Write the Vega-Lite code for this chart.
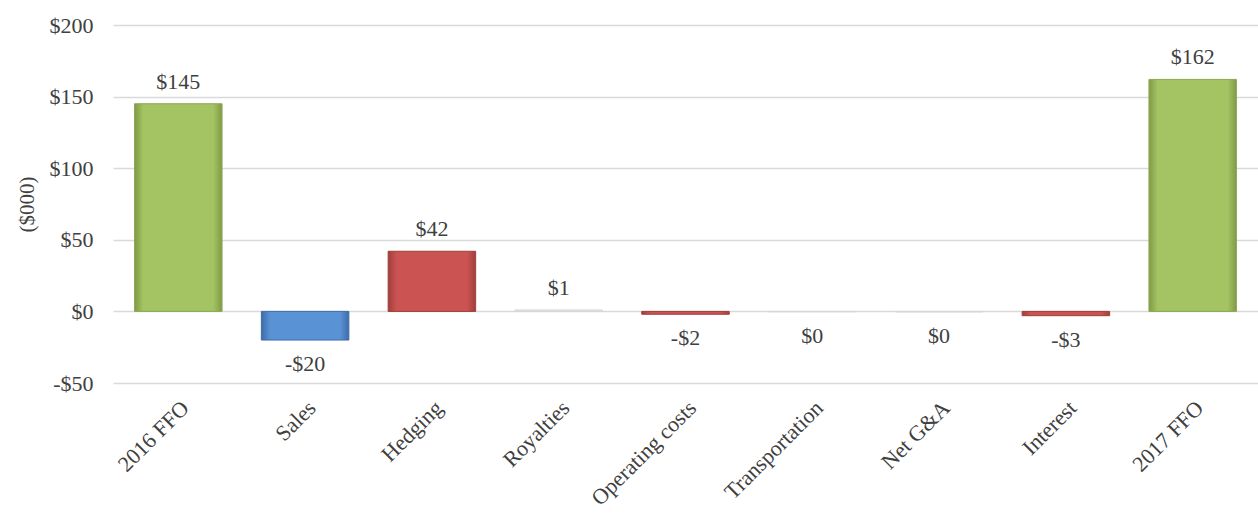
{
"$schema": "https://vega.github.io/schema/vega-lite/v6.json",
"autosize": {"type": "none"},
"padding": {"left": 113, "top": 25, "right": 0, "bottom": 131},
"width": 1145,
"height": 358,
"background": "white",
"config": {
  "font": "Liberation Serif",
  "view": {"stroke": null},
  "axis": {"labelFont": "Liberation Serif", "titleFont": "Liberation Serif", "labelFontSize": 22, "titleFontSize": 21, "labelColor": "#404040", "titleColor": "#404040", "titleFontWeight": "normal", "domain": false, "ticks": false, "gridColor": "#d9d9d9", "gridWidth": 1.5}
},
"data": {"values": [
  {"category": "2016 FFO", "value": 145, "series": "total", "label": "$145"},
  {"category": "Sales", "value": -20, "series": "blue", "label": "-$20"},
  {"category": "Hedging", "value": 42, "series": "red", "label": "$42"},
  {"category": "Royalties", "value": 1, "series": "grey", "label": "$1"},
  {"category": "Operating costs", "value": -2, "series": "red", "label": "-$2"},
  {"category": "Transportation", "value": -0.3, "series": "grey", "label": "$0"},
  {"category": "Net G&A", "value": -0.4, "series": "grey", "label": "$0"},
  {"category": "Interest", "value": -3, "series": "red", "label": "-$3"},
  {"category": "2017 FFO", "value": 162, "series": "total", "label": "$162"}
]},
"encoding": {
  "x": {"field": "category", "type": "nominal", "sort": null,
    "scale": {"domain": ["2016 FFO", "Sales", "Hedging", "Royalties", "Operating costs", "Transportation", "Net G&A", "Interest", "2017 FFO"], "paddingInner": 0.31, "paddingOuter": 0.17},
    "axis": {"title": null, "labelAngle": -45, "labelPadding": 14, "grid": false}},
  "y": {"field": "value", "type": "quantitative",
    "scale": {"domain": [-50, 200], "nice": false},
    "axis": {"values": [-50, 0, 50, 100, 150, 200], "title": "($000)", "titlePadding": 12, "labelPadding": 20,
      "labelExpr": "datum.value < 0 ? '-$' + abs(datum.value) : '$' + datum.value"}}
},
"layer": [
  {"transform": [{"filter": "datum.series === 'total'"}],
   "mark": {"type": "bar", "stroke": "#8BA755", "strokeWidth": 1,
     "fill": {"gradient": "linear", "x1": 0, "x2": 1, "y1": 0, "y2": 0, "stops": [
       {"offset": 0, "color": "#7F9B47"}, {"offset": 0.1, "color": "#A4C362"}, {"offset": 0.9, "color": "#A4C362"}, {"offset": 1, "color": "#7F9B47"}]}}},
  {"transform": [{"filter": "datum.series === 'blue'"}],
   "mark": {"type": "bar", "stroke": "#3F6CA5", "strokeWidth": 1,
     "fill": {"gradient": "linear", "x1": 0, "x2": 1, "y1": 0, "y2": 0, "stops": [
       {"offset": 0, "color": "#3C6DA8"}, {"offset": 0.1, "color": "#5A92D6"}, {"offset": 0.9, "color": "#5A92D6"}, {"offset": 1, "color": "#3C6DA8"}]}}},
  {"transform": [{"filter": "datum.series === 'red'"}],
   "mark": {"type": "bar", "stroke": "#9E3E3B", "strokeWidth": 1,
     "fill": {"gradient": "linear", "x1": 0, "x2": 1, "y1": 0, "y2": 0, "stops": [
       {"offset": 0, "color": "#A03F3C"}, {"offset": 0.1, "color": "#CB5452"}, {"offset": 0.9, "color": "#CB5452"}, {"offset": 1, "color": "#A03F3C"}]}}},
  {"transform": [{"filter": "datum.series === 'grey'"}],
   "mark": {"type": "bar", "fill": "#e3e3e3", "stroke": "#d6d6d6", "strokeWidth": 1}},
  {"transform": [{"filter": "datum.value >= 0"}],
   "mark": {"type": "text", "baseline": "bottom", "dy": -10, "fontSize": 22, "font": "Liberation Serif", "color": "#404040"},
   "encoding": {"text": {"field": "label"}}},
  {"transform": [{"filter": "datum.value < 0"}],
   "mark": {"type": "text", "baseline": "top", "dy": 14, "fontSize": 22, "font": "Liberation Serif", "color": "#404040"},
   "encoding": {"text": {"field": "label"}}}
]
}
